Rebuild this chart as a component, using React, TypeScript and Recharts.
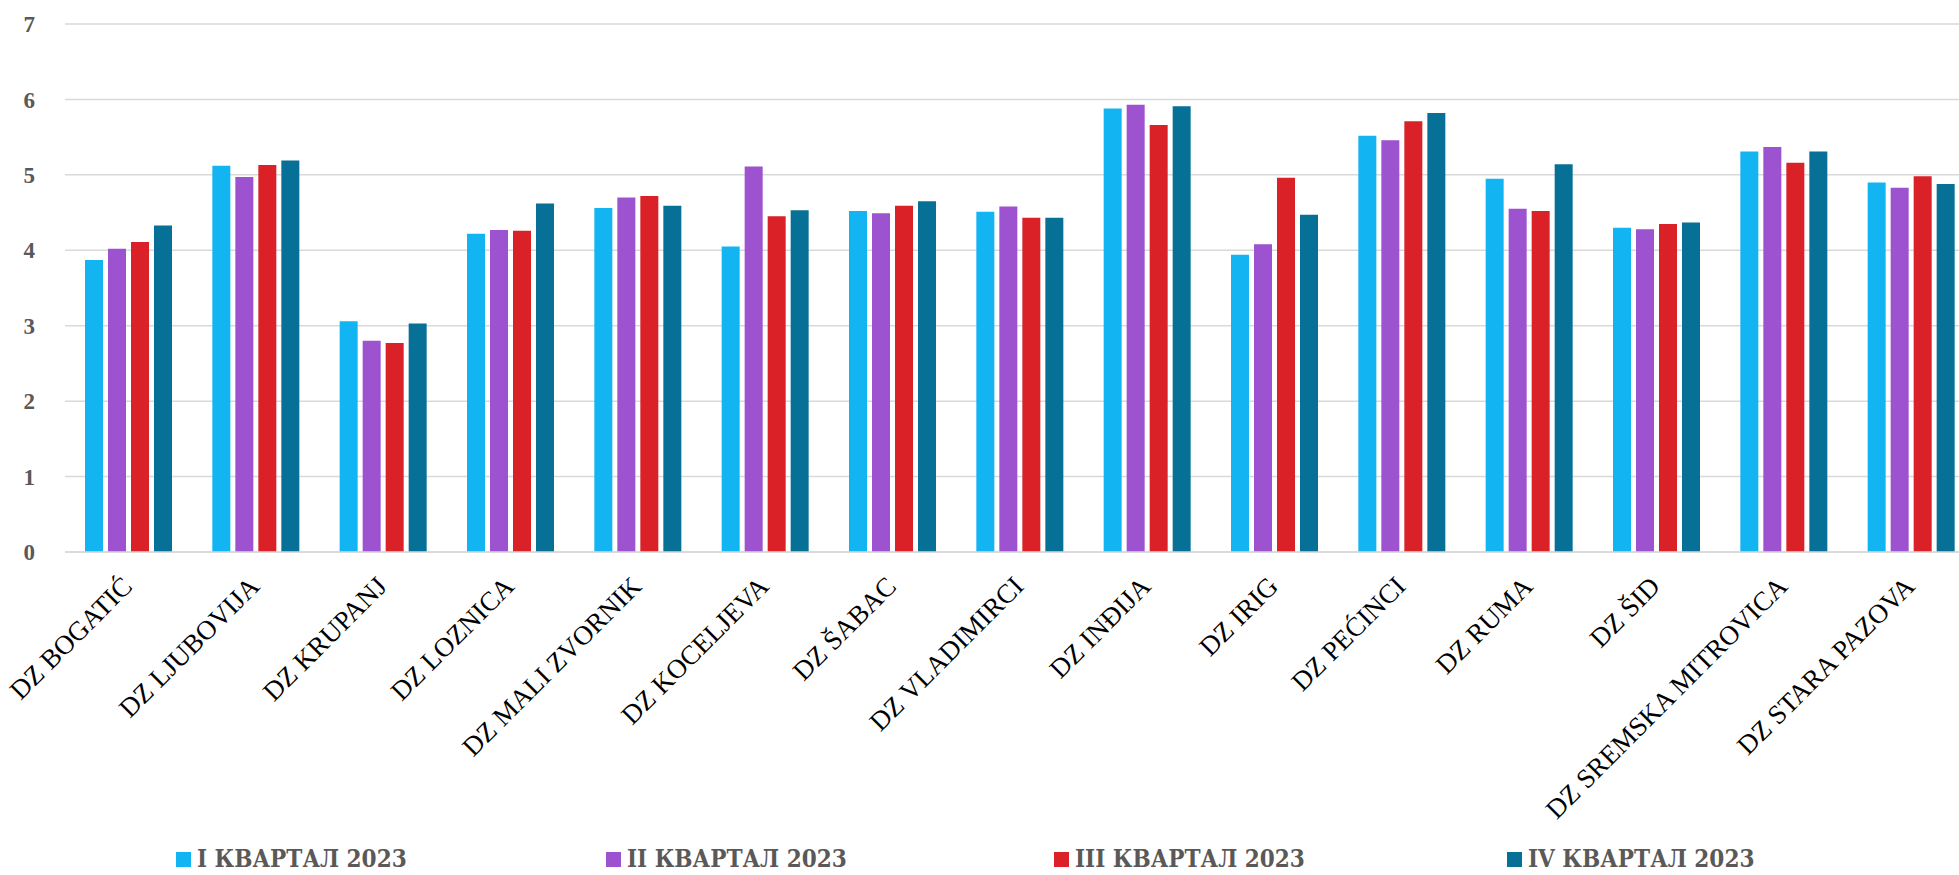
import React from 'react';
import { BarChart, Bar, XAxis, YAxis, CartesianGrid, Legend } from 'recharts';

const categories = [
  'DZ BOGATIĆ', 'DZ LJUBOVIJA', 'DZ KRUPANJ', 'DZ LOZNICA', 'DZ MALI ZVORNIK',
  'DZ KOCELJEVA', 'DZ ŠABAC', 'DZ VLADIMIRCI', 'DZ INĐIJA', 'DZ IRIG',
  'DZ PEĆINCI', 'DZ RUMA', 'DZ ŠID', 'DZ SREMSKA MITROVICA', 'DZ STARA PAZOVA',
];
const q1 = [3.87, 5.12, 3.06, 4.22, 4.56, 4.05, 4.52, 4.51, 5.88, 3.94, 5.52, 4.95, 4.30, 5.31, 4.90];
const q2 = [4.02, 4.97, 2.80, 4.27, 4.70, 5.11, 4.49, 4.58, 5.93, 4.08, 5.46, 4.55, 4.28, 5.37, 4.83];
const q3 = [4.11, 5.13, 2.77, 4.26, 4.72, 4.45, 4.59, 4.43, 5.66, 4.96, 5.71, 4.52, 4.35, 5.16, 4.98];
const q4 = [4.33, 5.19, 3.03, 4.62, 4.59, 4.53, 4.65, 4.43, 5.91, 4.47, 5.82, 5.14, 4.37, 5.31, 4.88];
const seriesNames = ['I КВАРТАЛ 2023', 'II КВАРТАЛ 2023', 'III КВАРТАЛ 2023', 'IV КВАРТАЛ 2023'];
const seriesKeys = ['q1', 'q2', 'q3', 'q4'];
const seriesColors = ['#12B5F2', '#9D52CF', '#DA2128', '#077096'];
const yTicks = [0, 1, 2, 3, 4, 5, 6, 7];

const data = categories.map((name, i) => ({ name, q1: q1[i], q2: q2[i], q3: q3[i], q4: q4[i] }));

const legendItemWidths = [430, 448, 453, 300];

const XTick = (props: any) => {
  const { x, y, payload } = props;
  const ax = x + 5;
  const ay = y + 36;
  return (
    <text
      x={ax}
      y={ay}
      transform={`rotate(-45, ${ax}, ${ay})`}
      textAnchor="end"
      fontFamily="'Liberation Serif', 'Times New Roman', serif"
      fontSize={27}
      fill="#000000"
    >
      {payload.value}
    </text>
  );
};

const LegendContent = () => (
  <div style={{ display: 'flex', flexDirection: 'row', alignItems: 'center', paddingLeft: 176, paddingTop: 12, height: 32, boxSizing: 'content-box' }}>
    {seriesNames.map((n, i) => (
      <div
        key={n}
        style={{
          width: legendItemWidths[i],
          flex: '0 0 auto',
          display: 'flex',
          alignItems: 'center',
          whiteSpace: 'nowrap',
        }}
      >
        <span style={{ display: 'inline-block', width: 15, height: 15, background: seriesColors[i], marginRight: 6, flex: '0 0 auto' }} />
        <span
          style={{
            fontFamily: "'DejaVu Serif Condensed', 'DejaVu Serif', serif",
            fontStretch: 'condensed',
            fontWeight: 'bold',
            fontSize: 24,
            color: '#595959',
            lineHeight: '32px',
          }}
        >
          {n}
        </span>
      </div>
    ))}
  </div>
);

export default function App() {
  return (
    <div style={{ position: 'fixed', left: 0, top: 0, width: 1959, height: 875, overflow: 'hidden', background: '#fff' }}>
      <BarChart
        width={1975}
        height={875}
        data={data}
        margin={{ top: 24, right: 0, bottom: 0, left: 0 }}
        barCategoryGap={20}
        barGap={5}
      >
        <CartesianGrid horizontal vertical={false} stroke="#D9D9D9" strokeWidth={1.5} />
        <XAxis
          dataKey="name"
          interval={0}
          height={279}
          tickLine={false}
          tickSize={0}
          tickMargin={0}
          axisLine={{ stroke: '#D9D9D9', strokeWidth: 1.5 }}
          tick={<XTick />}
        />
        <YAxis
          width={65}
          domain={[0, 7]}
          ticks={yTicks}
          interval={0}
          axisLine={false}
          tickLine={false}
          tickSize={0}
          tickMargin={30}
          tick={{ fill: '#595959', fontSize: 23, fontWeight: 'bold', fontFamily: "'Liberation Serif', serif" }}
        />
        <Legend verticalAlign="bottom" align="left" content={<LegendContent />} wrapperStyle={{ left: 0, width: 1959 }} />
        {seriesKeys.map((k, i) => (
          <Bar key={k} dataKey={k} name={seriesNames[i]} fill={seriesColors[i]} isAnimationActive={false} />
        ))}
      </BarChart>
    </div>
  );
}
